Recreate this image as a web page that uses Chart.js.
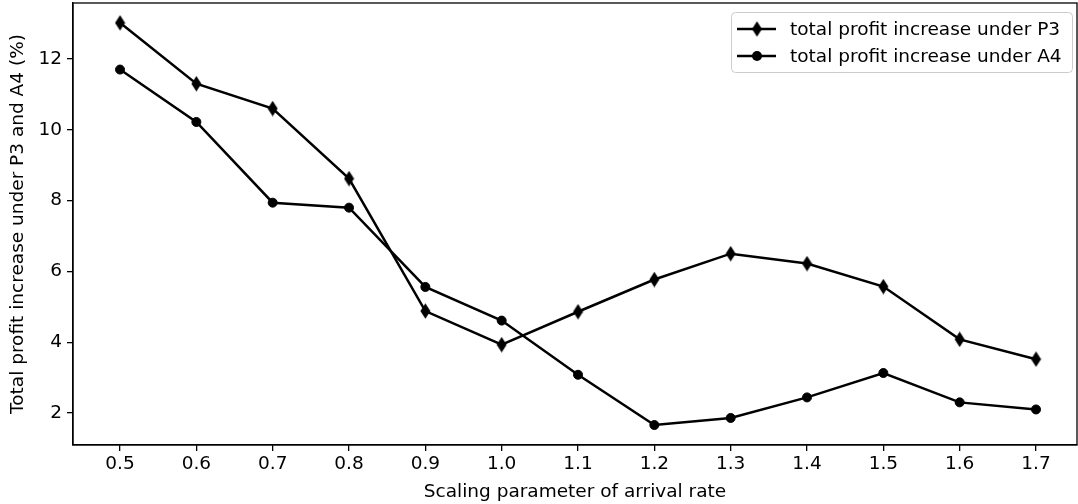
<!DOCTYPE html>
<html>
<head>
<meta charset="utf-8">
<script src="https://cdn.jsdelivr.net/npm/chart.js"></script>
<style>
  html, body { margin: 0; padding: 0; background: #fff; }
  #wrap { width: 1078px; height: 504px; position: relative; }
</style>
</head>
<body>
<div id="wrap"><canvas id="chart"></canvas></div>
<script>
// data
const scaling = [0.5, 0.6, 0.7, 0.8, 0.9, 1.0, 1.1, 1.2, 1.3, 1.4, 1.5, 1.6, 1.7];
const profitP3 = [13.02, 11.3, 10.6, 8.62, 4.88, 3.93, 4.86, 5.77, 6.5, 6.22, 5.57, 4.08, 3.52];
const profitA4 = [11.7, 10.22, 7.94, 7.8, 5.56, 4.61, 3.08, 1.66, 1.86, 2.44, 3.13, 2.3, 2.1];
const yTicks = [2, 4, 6, 8, 10, 12];
const seriesNames = ["total profit increase under P3", "total profit increase under A4"];

const FONT = "'DejaVu Sans', sans-serif";
const FS = 18.5;

// thin diamond marker like matplotlib "d"
function thinDiamond() {
  const c = document.createElement("canvas");
  c.width = 11; c.height = 16;
  const g = c.getContext("2d");
  g.fillStyle = "#000";
  g.beginPath();
  g.moveTo(5.5, 0.3); g.lineTo(10.5, 8); g.lineTo(5.5, 15.7); g.lineTo(0.5, 8);
  g.closePath();
  g.fill();
  return c;
}
const diamond = thinDiamond();

// frame + legend like the original
const framePlugin = {
  id: "frame",
  afterDraw(chart) {
    const { ctx, chartArea: a } = chart;
    ctx.save();
    ctx.strokeStyle = "#000";
    ctx.lineWidth = 1.3;
    ctx.strokeRect(a.left, a.top, a.right - a.left, a.bottom - a.top);

    // legend
    const bx = 731, by = 12, bw = 341, bh = 60;
    ctx.fillStyle = "rgba(255,255,255,0.8)";
    ctx.strokeStyle = "#cccccc";
    ctx.lineWidth = 1;
    ctx.beginPath();
    ctx.roundRect(bx + 0.5, by + 0.5, bw, bh, 4);
    ctx.fill();
    ctx.stroke();
    ctx.font = FS + "px " + FONT;
    ctx.textBaseline = "middle";
    ctx.fillStyle = "#000";
    seriesNames.forEach((name, i) => {
      const y = by + 17 + i * 27;
      ctx.strokeStyle = "#000";
      ctx.lineWidth = 2.5;
      ctx.beginPath();
      ctx.moveTo(737, y); ctx.lineTo(776, y);
      ctx.stroke();
      if (i === 0) {
        ctx.drawImage(diamond, 757 - 5.5, y - 8);
      } else {
        ctx.beginPath();
        ctx.arc(757, y, 5, 0, Math.PI * 2);
        ctx.fill();
      }
      ctx.fillText(name, 790, y + 1);
    });
    ctx.restore();
  }
};

new Chart(document.getElementById("chart"), {
  type: "line",
  data: {
    datasets: [
      {
        label: seriesNames[0],
        data: scaling.map((x, i) => ({ x, y: profitP3[i] })),
        borderColor: "#000",
        backgroundColor: "#000",
        borderWidth: 2.5,
        pointStyle: diamond,
        tension: 0,
      },
      {
        label: seriesNames[1],
        data: scaling.map((x, i) => ({ x, y: profitA4[i] })),
        borderColor: "#000",
        backgroundColor: "#000",
        borderWidth: 2.5,
        pointStyle: "circle",
        pointRadius: 4.5,
        pointBorderWidth: 1,
        tension: 0,
      },
    ],
  },
  options: {
    responsive: true,
    maintainAspectRatio: false,
    animation: false,
    layout: { autoPadding: false, padding: { left: 0, right: 1, top: 3, bottom: 0 } },
    plugins: {
      legend: { display: false },
      tooltip: { enabled: false },
    },
    scales: {
      x: {
        type: "linear",
        min: 0.4384,
        max: 1.7537,
        afterBuildTicks: (s) => { s.ticks = scaling.map((v) => ({ value: v })); },
        afterFit: (s) => { s.height = 59; s.paddingLeft = 0; s.paddingRight = 0; },
        ticks: {
          color: "#000",
          font: { family: FONT, size: FS },
          padding: 2,
          maxRotation: 0,
          autoSkip: false,
          callback: (v) => v.toFixed(1),
        },
        grid: { drawOnChartArea: false, drawTicks: true, tickLength: 6, color: "#000", lineWidth: 1.3 },
        border: { display: true, color: "#000", width: 1.3 },
        title: {
          display: true,
          text: "Scaling parameter of arrival rate",
          color: "#000",
          font: { family: FONT, size: FS },
          padding: { top: 0, bottom: 1 },
        },
      },
      y: {
        min: 1.096,
        max: 13.58,
        afterBuildTicks: (s) => { s.ticks = yTicks.map((v) => ({ value: v })); },
        afterFit: (s) => { s.width = 73; s.paddingTop = 0; s.paddingBottom = 0; },
        ticks: {
          color: "#000",
          font: { family: FONT, size: FS },
          padding: 5,
        },
        grid: { drawOnChartArea: false, drawTicks: true, tickLength: 6, color: "#000", lineWidth: 1.3 },
        border: { display: true, color: "#000", width: 1.3 },
        title: {
          display: true,
          text: "Total profit increase under P3 and A4 (%)",
          color: "#000",
          font: { family: FONT, size: FS },
          padding: { top: 7, bottom: 0 },
        },
      },
    },
  },
  plugins: [framePlugin],
});
</script>
</body>
</html>
